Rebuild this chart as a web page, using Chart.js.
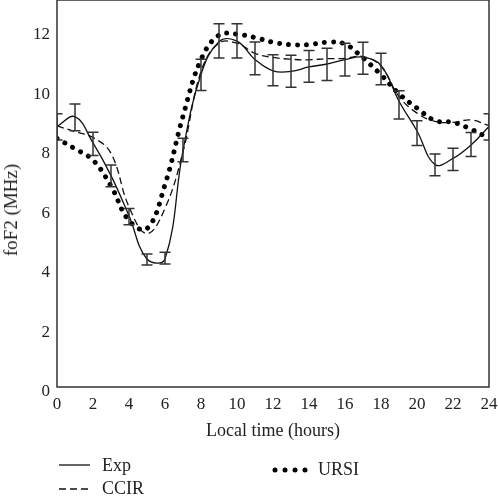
<!DOCTYPE html>
<html>
<head>
<meta charset="utf-8">
<script src="https://cdn.jsdelivr.net/npm/chart.js@4.4.0/dist/chart.umd.min.js"></script>
<style>
  html, body { margin: 0; padding: 0; background: #fff; }
  #wrap { position: relative; width: 498px; height: 500px; }
  #chart { position: absolute; left: 0; top: 0; }
  .leg { position: absolute; font-family: "Liberation Serif", serif; font-size: 18px; line-height: 18px; color: #222; }
  .ytitle { position: absolute; left: 11px; top: 210px; font-family: "Liberation Serif", serif; font-size: 19px;
            color: #222; white-space: nowrap; transform: translate(-50%, -50%) rotate(-90deg); }
  svg.key { position: absolute; }
</style>
</head>
<body>
<div id="wrap">
  <canvas id="chart" width="498" height="500"></canvas>
  <div class="ytitle">foF2 (MHz)</div>

  <svg class="key" style="left:55px;top:458px" width="40" height="40">
    <line x1="4" y1="7" x2="35" y2="7" stroke="#111" stroke-width="1.3"/>
    <line x1="4" y1="31" x2="35" y2="31" stroke="#111" stroke-width="1.3" stroke-dasharray="7,4"/>
  </svg>
  <div class="leg" style="left:102px;top:456px">Exp</div>
  <div class="leg" style="left:102px;top:479px">CCIR</div>

  <svg class="key" style="left:270px;top:463px" width="40" height="14">
    <circle cx="5" cy="7" r="2.5" fill="#000"/>
    <circle cx="15" cy="7" r="2.5" fill="#000"/>
    <circle cx="25" cy="7" r="2.5" fill="#000"/>
    <circle cx="35" cy="7" r="2.5" fill="#000"/>
  </svg>
  <div class="leg" style="left:318px;top:460px">URSI</div>
</div>
<script>
// local time, hours
const hours = [0, 1, 2, 3, 4, 5, 6, 7, 8, 9, 10, 11, 12, 13, 14, 15, 16, 17, 18, 19, 20, 21, 22, 23, 24];

// measured foF2 (MHz) and its error bar ends
const expVals  = [8.75, 9.08, 8.2, 7.1, 5.75, 4.3, 4.3, 7.95, 10.5, 11.6, 11.62, 11.0, 10.62, 10.6, 10.75, 10.85, 11.0, 11.08, 10.8, 9.6, 8.6, 7.47, 7.68, 8.13, 8.75];
const expHigh  = [9.18, 9.51, 8.56, 7.46, 6.0, 4.47, 4.53, 8.36, 11.01, 12.2, 12.2, 11.59, 11.16, 11.14, 11.3, 11.38, 11.55, 11.58, 11.21, 9.95, 8.94, 7.83, 8.02, 8.55, 9.18];
const expLow   = [8.3, 8.61, 7.78, 6.73, 5.45, 4.1, 4.13, 7.57, 9.96, 11.05, 11.05, 10.49, 10.12, 10.07, 10.24, 10.3, 10.45, 10.51, 10.15, 9.0, 8.11, 7.1, 7.27, 7.74, 8.3];

// model predictions
const ccirVals = [8.77, 8.58, 8.38, 7.85, 6.05, 5.15, 6.0, 7.9, 10.6, 11.55, 11.55, 11.21, 11.07, 11.01, 10.99, 11.03, 11.04, 11.1, 10.77, 9.76, 9.2, 8.92, 8.89, 8.97, 8.78];
const ursiVals = [8.35, 8.0, 7.62, 6.75, 5.59, 5.32, 6.8, 9.1, 11.0, 11.82, 11.85, 11.74, 11.58, 11.5, 11.5, 11.58, 11.52, 11.05, 10.49, 9.85, 9.37, 8.95, 8.89, 8.66, 8.35];

const xTicks = [0, 2, 4, 6, 8, 10, 12, 14, 16, 18, 20, 22, 24];
const yTicks = [0, 2, 4, 6, 8, 10, 12];

const serif = "'Liberation Serif', serif";

function pts(vals) {
  return hours.map((h, i) => ({ x: h, y: vals[i] }));
}

// error bars for the measured curve
const errorBars = {
  id: "errorBars",
  afterDatasetsDraw(chart) {
    const { ctx, chartArea, scales } = chart;
    ctx.save();
    ctx.beginPath();
    ctx.rect(chartArea.left, chartArea.top, chartArea.right - chartArea.left, chartArea.bottom - chartArea.top);
    ctx.clip();
    ctx.strokeStyle = "#333";
    ctx.lineWidth = 1.5;
    hours.forEach((h, i) => {
      const x = scales.x.getPixelForValue(h);
      const y1 = scales.y.getPixelForValue(expHigh[i]);
      const y2 = scales.y.getPixelForValue(expLow[i]);
      ctx.beginPath();
      ctx.moveTo(x, y1); ctx.lineTo(x, y2);
      ctx.moveTo(x - 5.5, y1); ctx.lineTo(x + 5.5, y1);
      ctx.moveTo(x - 5.5, y2); ctx.lineTo(x + 5.5, y2);
      ctx.stroke();
    });
    ctx.restore();
  }
};

// frame round the plot
const frame = {
  id: "frame",
  afterDraw(chart) {
    const { ctx, chartArea } = chart;
    ctx.save();
    ctx.strokeStyle = "#333";
    ctx.lineWidth = 1.5;
    ctx.strokeRect(chartArea.left, chartArea.top, chartArea.right - chartArea.left, chartArea.bottom - chartArea.top);
    ctx.restore();
  }
};

const ctx = document.getElementById("chart").getContext("2d");
new Chart(ctx, {
  type: "line",
  data: {
    datasets: [
      {
        label: "Exp",
        data: pts(expVals),
        borderColor: "#111",
        borderWidth: 1.3,
        pointRadius: 0,
        tension: 0.4
      },
      {
        label: "CCIR",
        data: pts(ccirVals),
        borderColor: "#111",
        borderWidth: 1.3,
        borderDash: [7, 4],
        pointRadius: 0,
        tension: 0.4
      },
      {
        label: "URSI",
        data: pts(ursiVals),
        borderColor: "#000",
        borderWidth: 5,
        borderDash: [0.01, 9],
        borderCapStyle: "round",
        pointRadius: 0,
        tension: 0.4
      }
    ]
  },
  options: {
    responsive: false,
    animation: false,
    layout: { padding: { left: 0, right: 9, top: 0, bottom: 58 } },
    plugins: {
      legend: { display: false },
      tooltip: { enabled: false }
    },
    scales: {
      x: {
        type: "linear",
        min: 0,
        max: 24,
        grid: { display: false, drawTicks: false },
        border: { display: false },
        afterBuildTicks: (s) => { s.ticks = xTicks.map(v => ({ value: v })); },
        afterFit: (s) => { s.height = 55; s.paddingLeft = 0; s.paddingRight = 0; },
        ticks: {
          padding: 7,
          maxRotation: 0,
          color: "#222",
          font: { family: serif, size: 17 }
        },
        title: {
          display: true,
          text: "Local time (hours)",
          color: "#222",
          padding: { top: 0, bottom: 0 },
          font: { family: serif, size: 18 }
        }
      },
      y: {
        min: 0,
        max: 13,
        grid: { display: false, drawTicks: false },
        border: { display: false },
        afterBuildTicks: (s) => { s.ticks = yTicks.map(v => ({ value: v })); },
        afterFit: (s) => { s.width = 57; s.paddingTop = 0; s.paddingBottom = 0; },
        ticks: {
          padding: 7,
          labelOffset: 5,
          color: "#222",
          font: { family: serif, size: 17 }
        },
        title: { display: false }
      }
    }
  },
  plugins: [errorBars, frame]
});
</script>
</body>
</html>
